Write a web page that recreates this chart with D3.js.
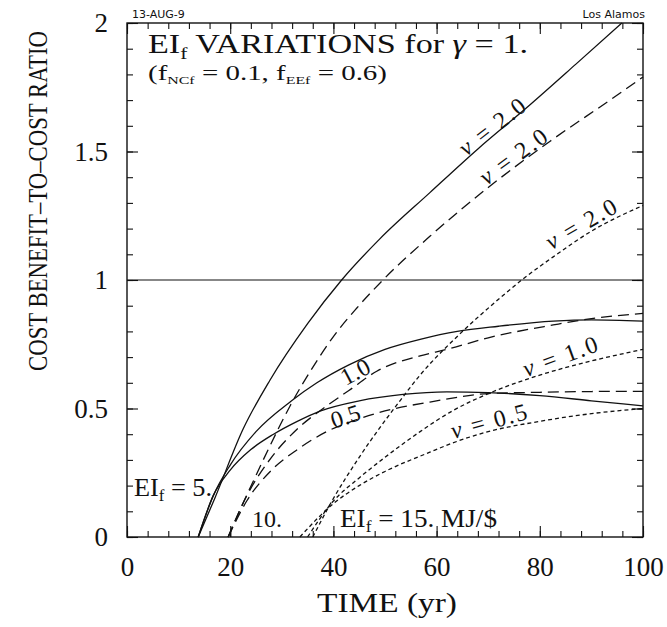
<!DOCTYPE html>
<html>
<head>
<meta charset="utf-8">
<script src="https://cdn.jsdelivr.net/npm/d3@7"></script>
<style>
  body { margin: 0; background: #fff; }
  svg { display: block; }
</style>
</head>
<body>
<div id="chart"></div>
<script>
// axis ticks
var xTicks = [0, 20, 40, 60, 80, 100]
var yTicks = [0, 0.5, 1, 1.5, 2]

// [time, ratio]; EIf = 5 (solid), 10 (long dash), 15 (short dash)
var ei5nu20 = [[13.8,0],[17,0.15],[22.5,0.42],[27.7,0.61],[35,0.83],[41.6,1.0],[49,1.16],[58.7,1.34],[68,1.51],[78,1.68],[87,1.84],[95.9,2.0]]
var ei5nu10 = [[13.8,0],[16.7,0.16],[20,0.28],[25,0.41],[31.9,0.53],[36.8,0.60],[43,0.67],[50,0.73],[57,0.77],[64,0.80],[72,0.82],[82.6,0.84],[90,0.845],[100,0.84]]
var ei5nu05 = [[13.8,0],[16.7,0.16],[20,0.26],[24,0.34],[28.4,0.40],[33,0.45],[37.4,0.49],[45,0.53],[53.5,0.555],[62,0.565],[70,0.562],[80,0.55],[90,0.53],[100,0.51]]

var ei10nu20 = [[19.6,0],[22,0.11],[25,0.24],[29.3,0.42],[31.6,0.51],[36,0.66],[40,0.78],[44.5,0.89],[49.6,1.0],[58.7,1.17],[70,1.36],[82,1.54],[93.6,1.70],[100,1.79]]
var ei10nu10 = [[19.6,0],[23.2,0.16],[28,0.31],[33,0.42],[38.7,0.51],[43,0.57],[48.4,0.645],[56.8,0.705],[62,0.73],[70,0.775],[82.6,0.825],[90,0.85],[100,0.87]]
var ei10nu05 = [[19.6,0],[23.2,0.14],[28,0.26],[33,0.34],[38.7,0.41],[45,0.46],[52,0.50],[58.7,0.525],[70,0.558],[80,0.563],[90,0.566],[100,0.567]]

var ei15nu20 = [[36,0],[40,0.15],[45,0.31],[52.9,0.53],[56.8,0.63],[64.5,0.79],[72.3,0.93],[76.5,1.0],[82.6,1.09],[90,1.19],[100,1.29]]
var ei15nu10 = [[35,0],[40,0.14],[45,0.23],[50,0.31],[56.8,0.41],[63,0.49],[70.3,0.56],[80,0.63],[90,0.685],[100,0.73]]
var ei15nu05 = [[33.5,0],[40,0.13],[45,0.2],[50,0.255],[58.7,0.33],[63,0.365],[70,0.41],[80,0.45],[90,0.48],[100,0.50]]

var series = [
  { pts: ei5nu20, dash: null }, { pts: ei5nu10, dash: null }, { pts: ei5nu05, dash: null },
  { pts: ei10nu20, dash: "11,6" }, { pts: ei10nu10, dash: "11,6" }, { pts: ei10nu05, dash: "11,6" },
  { pts: ei15nu20, dash: "4,3" }, { pts: ei15nu10, dash: "4,3" }, { pts: ei15nu05, dash: "4,3" }
]

var TIMES = "'Liberation Serif', 'Times New Roman', serif"
var SANS = "'DejaVu Sans', 'Liberation Sans', sans-serif"

var W = 667, H = 627
var x = d3.scaleLinear().domain([0, 100]).range([127, 643])
var y = d3.scaleLinear().domain([0, 2]).range([537, 23])

var svg = d3.select("#chart").append("svg")
    .attr("width", W)
    .attr("height", H)
    .style("font-family", TIMES)

// ticks: major + minor, all four sides, pointing inward
function tickAxis(axis, pos, vals, size, fmt) {
  var g = svg.append("g").attr("transform", pos)
    .call(axis.tickValues(vals).tickSizeInner(-size).tickSizeOuter(0).tickFormat(fmt))
  g.select(".domain").remove()
  g.selectAll(".tick line").attr("stroke", "#111").attr("stroke-width", 1.1)
  return g
}
var xMinor = d3.range(0, 101, 4)
var yMinor = d3.range(0, 2.001, 0.1)
var none = () => ""

tickAxis(d3.axisBottom(x), "translate(0,537)", xMinor, 6, none)
tickAxis(d3.axisTop(x), "translate(0,23)", xMinor, 6, none)
tickAxis(d3.axisLeft(y), "translate(127,0)", yMinor, 6, none)
tickAxis(d3.axisRight(y), "translate(643,0)", yMinor, 6, none)
tickAxis(d3.axisTop(x), "translate(0,23)", xTicks, 11, none)
tickAxis(d3.axisRight(y), "translate(643,0)", yTicks, 11, none)

var xa = tickAxis(d3.axisBottom(x).tickPadding(20), "translate(0,537)", xTicks, 11, d3.format("d"))
xa.selectAll(".tick text").attr("fill", "#111").style("font-family", TIMES).style("font-size", "27px")
var ya = tickAxis(d3.axisLeft(y).tickPadding(19), "translate(127,0)", yTicks, 11, d => String(d))
ya.selectAll(".tick text").attr("fill", "#111").style("font-family", TIMES).style("font-size", "27px")

// frame
svg.append("rect")
    .attr("x", x(0)).attr("y", y(2))
    .attr("width", x(100) - x(0)).attr("height", y(0) - y(2))
    .attr("fill", "none").attr("stroke", "#111").attr("stroke-width", 1.4)

// ratio = 1 reference
svg.append("line")
    .attr("x1", x(0)).attr("x2", x(100))
    .attr("y1", y(1)).attr("y2", y(1))
    .attr("stroke", "#111").attr("stroke-width", 1.2)

var line = d3.line()
    .x(d => x(d[0]))
    .y(d => y(d[1]))
    .curve(d3.curveMonotoneX)

svg.append("g").selectAll("path")
    .data(series)
  .enter().append("path")
    .attr("d", d => line(d.pts))
    .attr("fill", "none")
    .attr("stroke", "#111")
    .attr("stroke-width", 1.3)
    .attr("stroke-dasharray", d => d.dash)

function txt(xp, yp, size, fam) {
  return svg.append("text").attr("x", xp).attr("y", yp)
    .attr("fill", "#111")
    .style("font-family", fam || TIMES)
    .style("font-size", size + "px")
}

// header texts
txt(132, 18, 11, SANS).text("13-AUG-9")
txt(645, 18, 11, SANS).attr("text-anchor", "end").text("Los Alamos")

var title = txt(148, 53, 27).attr("textLength", 380).attr("lengthAdjust", "spacingAndGlyphs")
title.append("tspan").text("EI")
title.append("tspan").style("font-size", "17px").attr("dy", 6).text("f")
title.append("tspan").attr("dy", -6).text(" VARIATIONS for ")
title.append("tspan").style("font-style", "italic").text("\u03b3")
title.append("tspan").text(" = 1.")

var sub = txt(148, 80, 20).attr("textLength", 239).attr("lengthAdjust", "spacingAndGlyphs")
sub.append("tspan").text("(f")
sub.append("tspan").style("font-size", "11px").attr("dy", 4).text("NCf")
sub.append("tspan").attr("dy", -4).text(" = 0.1, f")
sub.append("tspan").style("font-size", "11px").attr("dy", 4).text("EEf")
sub.append("tspan").attr("dy", -4).text(" = 0.6)")

// axis titles (y title squeezed along its length to fit the reference span)
var yTitle = txt(0, 0, 27)
    .attr("text-anchor", "middle")
    .text("COST BENEFIT\u2013TO\u2013COST RATIO")
var yLen = yTitle.node().getComputedTextLength()
yTitle.attr("transform", "translate(47,201) rotate(-90) scale(" + (340 / yLen) + ",1)")

txt(387, 612, 27)
    .attr("text-anchor", "middle")
    .attr("textLength", 140).attr("lengthAdjust", "spacingAndGlyphs")
    .text("TIME (yr)")

// EIf labels
function eiLabel(xp, yp, rest, len) {
  var t = txt(xp, yp, 25).attr("textLength", len).attr("lengthAdjust", "spacingAndGlyphs")
  t.append("tspan").text("EI")
  t.append("tspan").style("font-size", "16px").attr("dy", 5).text("f")
  t.append("tspan").attr("dy", -5).text(rest)
}
eiLabel(134, 496, " = 5.", 78)
txt(252, 527, 24).text("10.")
eiLabel(340, 527, " = 15. MJ/$", 157)

// curve labels
var curveLabels = [
  { cx: 497, cy: 133, a: -38, nu: true, v: "2.0" },
  { cx: 518, cy: 163, a: -36, nu: true, v: "2.0" },
  { cx: 585, cy: 231, a: -30, nu: true, v: "2.0" },
  { cx: 359, cy: 379, a: -28, nu: false, v: "1.0" },
  { cx: 348, cy: 424, a: -18, nu: false, v: "0.5" },
  { cx: 563, cy: 364, a: -20, nu: true, v: "1.0" },
  { cx: 491, cy: 429, a: -15, nu: true, v: "0.5" }
]
curveLabels.forEach(l => {
  var t = txt(0, 0, 24)
      .attr("transform", "translate(" + l.cx + "," + l.cy + ") rotate(" + l.a + ")")
      .attr("text-anchor", "middle")
  if (l.nu) {
    t.attr("textLength", 78).attr("lengthAdjust", "spacing")
    t.append("tspan").style("font-style", "italic").text("\u03bd")
    t.append("tspan").text(" = " + l.v)
  } else {
    t.text(l.v)
  }
})
</script>
</body>
</html>
